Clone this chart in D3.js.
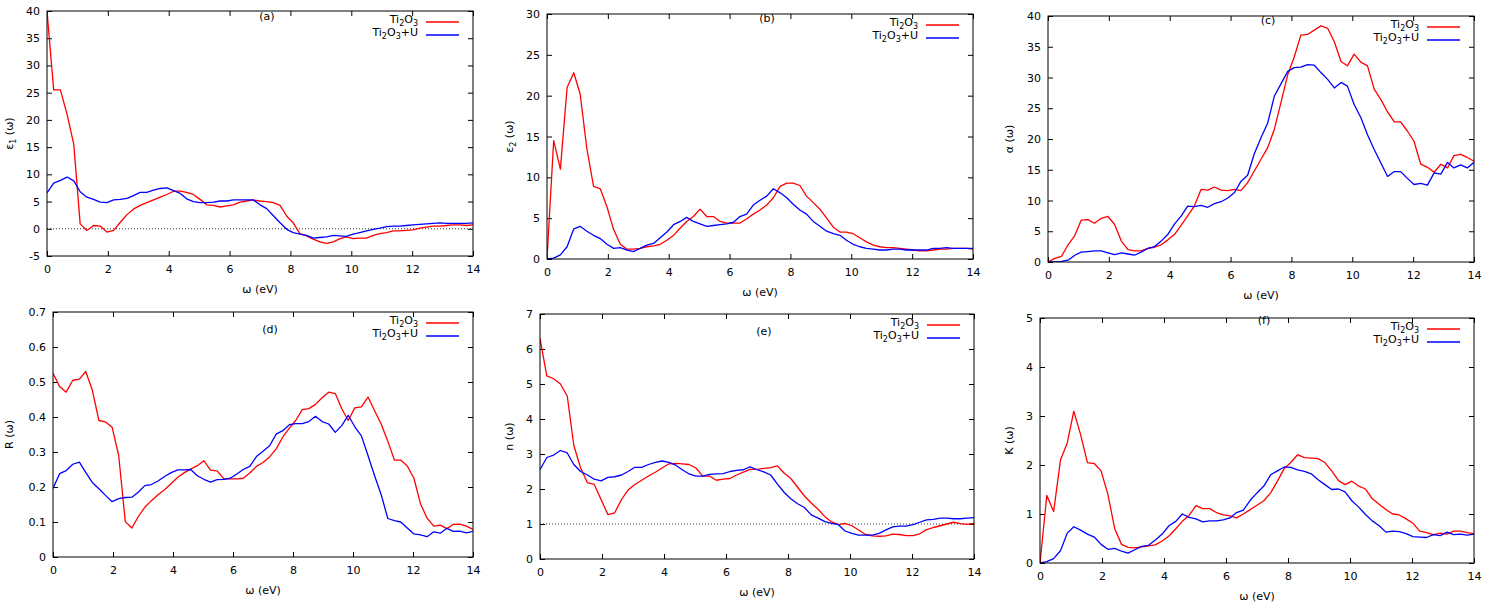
<!DOCTYPE html>
<html>
<head>
<meta charset="utf-8">
<script src="https://cdn.jsdelivr.net/npm/d3@7/dist/d3.min.js"></script>
<style>
    body { margin: 0; background: #fff; }
    svg { font-family: "DejaVu Sans", sans-serif; font-size: 11px; }
</style>
</head>
<body>
<div id="chart"></div>
<script>
// photon energy grid (eV)
const energy = [0, 0.22, 0.44, 0.66, 0.88, 1.09, 1.31, 1.53, 1.75, 1.97, 2.19, 2.41, 2.63, 2.84, 3.06, 3.28,
    3.5, 3.72, 3.94, 4.16, 4.38, 4.59, 4.81, 5.03, 5.25, 5.47, 5.69, 5.91, 6.13, 6.34, 6.56, 6.78,
    7.0, 7.22, 7.44, 7.66, 7.88, 8.09, 8.31, 8.53, 8.75, 8.97, 9.19, 9.41, 9.63, 9.84, 10.06, 10.28,
    10.5, 10.72, 10.94, 11.16, 11.38, 11.59, 11.81, 12.03, 12.25, 12.47, 12.69, 12.91, 13.13, 13.34,
    13.56, 13.78, 14.0];

const seriesNames = ['Ti2O3', 'Ti2O3+U'];

// (a) real part of dielectric function
const eps1Ti2O3 = [40, 25.5, 25.5, 21, 15.5, 0.9, -0.3, 0.6, 0.5, -0.6, -0.3, 1.2, 2.6, 3.6, 4.3, 4.8,
    5.3, 5.8, 6.3, 6.9, 6.9, 6.7, 6.3, 5.4, 4.4, 4.3, 4.0, 4.2, 4.4, 4.9, 5.1, 5.3,
    5.1, 5.0, 4.8, 4.3, 2.3, 1.1, -0.9, -1.3, -1.9, -2.4, -2.7, -2.4, -1.8, -1.5, -1.8, -1.7,
    -1.7, -1.2, -0.9, -0.7, -0.4, -0.4, -0.3, -0.2, 0.1, 0.3, 0.5, 0.5, 0.6, 0.7,
    0.7, 0.6, 0.7];
const eps1Ti2O3U = [6.6, 8.4, 8.9, 9.5, 8.8, 6.8, 5.8, 5.4, 4.9, 4.8, 5.3, 5.4, 5.6, 6.1, 6.7, 6.7,
    7.1, 7.4, 7.5, 7.0, 6.5, 5.5, 5.0, 4.8, 4.8, 4.9, 5.1, 5.1, 5.3, 5.3, 5.3, 5.3,
    4.4, 3.7, 2.4, 1.1, -0.1, -0.7, -1.0, -1.2, -1.7, -1.6, -1.5, -1.2, -1.3, -1.4, -1.0, -0.7,
    -0.4, -0.1, 0.1, 0.4, 0.5, 0.5, 0.6, 0.7, 0.8, 0.9, 1.0, 1.1, 1.0, 1.0,
    1.0, 1.0, 1.1];

// (b) imaginary part of dielectric function
const eps2Ti2O3 = [0, 14.5, 11.0, 21.0, 22.8, 20.2, 13.5, 8.9, 8.6, 6.4, 3.6, 1.8, 1.2, 1.2, 1.3, 1.5,
    1.6, 1.8, 2.3, 2.9, 3.8, 4.6, 5.2, 6.1, 5.2, 5.2, 4.6, 4.4, 4.4, 4.4, 4.9, 5.5,
    6.0, 6.6, 7.5, 8.9, 9.3, 9.3, 9.0, 7.7, 6.9, 6.1, 5.0, 3.9, 3.3, 3.3, 3.1, 2.6,
    2.1, 1.7, 1.5, 1.4, 1.4, 1.3, 1.2, 1.1, 1.0, 1.0, 1.1, 1.2, 1.2, 1.3,
    1.3, 1.3, 1.2];
const eps2Ti2O3U = [0, 0.1, 0.5, 1.5, 3.7, 4.0, 3.4, 2.9, 2.5, 1.8, 1.3, 1.4, 1.1, 0.9, 1.3, 1.7,
    1.9, 2.6, 3.3, 4.2, 4.6, 5.1, 4.6, 4.3, 4.0, 4.1, 4.2, 4.3, 4.5, 5.2, 5.5, 6.6,
    7.2, 7.7, 8.6, 8.1, 7.5, 6.7, 6.0, 5.5, 4.6, 4.0, 3.4, 3.1, 2.9, 2.3, 1.8, 1.5,
    1.3, 1.2, 1.1, 1.1, 1.2, 1.2, 1.1, 1.1, 1.1, 1.1, 1.3, 1.3, 1.4, 1.3,
    1.3, 1.3, 1.3];

// (c) absorption coefficient
const alphaTi2O3 = [0, 0.6, 0.9, 2.8, 4.3, 6.8, 6.9, 6.3, 7.1, 7.4, 6.1, 3.4, 2.0, 1.8, 1.8, 2.2,
    2.4, 2.8, 3.6, 4.5, 6.0, 7.5, 9.1, 11.8, 11.7, 12.2, 11.7, 11.6, 11.8, 11.6, 12.9, 14.8,
    16.7, 18.6, 21.6, 26.0, 30.5, 33.3, 36.9, 37.0, 37.7, 38.4, 38.0, 35.8, 32.6, 31.9, 33.8, 32.5,
    31.9, 28.1, 26.4, 24.4, 22.8, 22.8, 21.3, 19.6, 15.9, 15.4, 14.6, 15.9, 15.3, 17.3,
    17.5, 17.0, 16.4];
const alphaTi2O3U = [0, 0, 0.1, 0.3, 1.1, 1.6, 1.7, 1.8, 1.8, 1.5, 1.2, 1.5, 1.3, 1.1, 1.6, 2.2,
    2.5, 3.4, 4.5, 6.2, 7.5, 9.1, 9.0, 9.2, 8.9, 9.5, 9.8, 10.4, 11.3, 13.1, 14.1, 17.6,
    20.2, 22.6, 27.0, 29.0, 31.0, 31.6, 31.7, 32.1, 32.0, 30.8, 29.7, 28.3, 29.2, 28.6, 25.6, 23.5,
    20.7, 18.3, 16.1, 13.9, 14.7, 14.7, 13.6, 12.6, 12.8, 12.5, 14.5, 14.3, 16.2, 15.3,
    15.8, 15.3, 16.2];

// (d) reflectivity
const reflTi2O3 = [0.525, 0.487, 0.471, 0.505, 0.508, 0.530, 0.477, 0.390, 0.386, 0.371, 0.290, 0.101, 0.083, 0.115, 0.142, 0.161,
    0.178, 0.192, 0.210, 0.228, 0.241, 0.251, 0.261, 0.275, 0.248, 0.246, 0.224, 0.223, 0.223, 0.225, 0.240, 0.259,
    0.270, 0.286, 0.309, 0.343, 0.368, 0.390, 0.421, 0.424, 0.436, 0.455, 0.471, 0.467, 0.423, 0.390, 0.426, 0.429,
    0.457, 0.418, 0.380, 0.331, 0.277, 0.277, 0.260, 0.225, 0.152, 0.111, 0.088, 0.091, 0.081, 0.093,
    0.094, 0.088, 0.079];
const reflTi2O3U = [0.196, 0.238, 0.247, 0.265, 0.271, 0.242, 0.213, 0.195, 0.176, 0.158, 0.167, 0.170, 0.171, 0.185, 0.204, 0.207,
    0.217, 0.230, 0.241, 0.249, 0.249, 0.250, 0.232, 0.222, 0.214, 0.221, 0.222, 0.225, 0.237, 0.250, 0.259, 0.287,
    0.302, 0.318, 0.351, 0.361, 0.378, 0.381, 0.381, 0.387, 0.402, 0.387, 0.380, 0.356, 0.376, 0.405, 0.372, 0.346,
    0.290, 0.232, 0.178, 0.110, 0.104, 0.100, 0.083, 0.066, 0.063, 0.058, 0.072, 0.068, 0.082, 0.073,
    0.074, 0.069, 0.073];

// (e) refractive index
const nTi2O3 = [6.3, 5.23, 5.15, 5.0, 4.65, 3.25, 2.6, 2.18, 2.13, 1.7, 1.27, 1.32, 1.7, 1.97, 2.13, 2.25,
    2.37, 2.48, 2.6, 2.72, 2.73, 2.72, 2.70, 2.6, 2.37, 2.37, 2.25, 2.28, 2.3, 2.4, 2.48, 2.56,
    2.56, 2.59, 2.61, 2.66, 2.45, 2.3, 2.05, 1.8, 1.6, 1.42, 1.21, 1.06, 0.98, 1.02, 0.95, 0.83,
    0.7, 0.66, 0.65, 0.66, 0.71, 0.7, 0.67, 0.67, 0.72, 0.84, 0.9, 0.95, 1.0, 1.05,
    1.01, 0.99, 1.02];
const nTi2O3U = [2.55, 2.9, 2.97, 3.1, 3.03, 2.7, 2.5, 2.4, 2.28, 2.23, 2.33, 2.35, 2.4, 2.5, 2.62, 2.62,
    2.7, 2.76, 2.8, 2.76, 2.68, 2.55, 2.43, 2.37, 2.37, 2.42, 2.43, 2.44, 2.5, 2.53, 2.55, 2.63,
    2.55, 2.49, 2.4, 2.14, 1.9, 1.72, 1.58, 1.47, 1.26, 1.17, 1.07, 1.02, 0.98, 0.8, 0.73, 0.68,
    0.68, 0.68, 0.73, 0.83, 0.92, 0.94, 0.94, 0.98, 1.05, 1.12, 1.13, 1.17, 1.17, 1.15,
    1.15, 1.17, 1.18];

// (f) extinction coefficient
const kTi2O3 = [0, 1.38, 1.05, 2.1, 2.45, 3.1, 2.62, 2.05, 2.03, 1.88, 1.4, 0.7, 0.38, 0.32, 0.31, 0.33,
    0.35, 0.37, 0.45, 0.55, 0.7, 0.85, 0.97, 1.17, 1.11, 1.11, 1.03, 0.98, 0.96, 0.92, 1.0, 1.09,
    1.18, 1.27, 1.43, 1.67, 1.93, 2.05, 2.21, 2.15, 2.14, 2.13, 2.05, 1.88, 1.68, 1.6, 1.67, 1.57,
    1.51, 1.31, 1.2, 1.09, 1.0, 0.98, 0.9, 0.81, 0.65, 0.62, 0.58, 0.61, 0.59, 0.65,
    0.65, 0.62, 0.6];
const kTi2O3U = [0, 0.03, 0.09, 0.25, 0.61, 0.74, 0.67, 0.59, 0.53, 0.38, 0.28, 0.3, 0.24, 0.2, 0.27, 0.34,
    0.36, 0.47, 0.59, 0.76, 0.85, 1.0, 0.93, 0.9, 0.84, 0.86, 0.86, 0.88, 0.92, 1.03, 1.08, 1.28,
    1.43, 1.57, 1.8, 1.88, 1.96, 1.95, 1.9, 1.87, 1.82, 1.7, 1.6, 1.5, 1.51, 1.45, 1.27, 1.14,
    0.99, 0.86, 0.76, 0.63, 0.65, 0.64, 0.6, 0.54, 0.53, 0.52, 0.58, 0.56, 0.63, 0.58,
    0.59, 0.57, 0.59];

// tick values
const xTicks = [0, 2, 4, 6, 8, 10, 12, 14];
const yTicksA = [-5, 0, 5, 10, 15, 20, 25, 30, 35, 40];
const yTicksB = [0, 5, 10, 15, 20, 25, 30];
const yTicksC = [0, 5, 10, 15, 20, 25, 30, 35, 40];
const yTicksD = [0, 0.1, 0.2, 0.3, 0.4, 0.5, 0.6, 0.7];
const yTicksE = [0, 1, 2, 3, 4, 5, 6, 7];
const yTicksF = [0, 1, 2, 3, 4, 5];

const colors = ['#ff0000', '#0000ff'];

// panel layout: frame in page pixels, y label parts [main, sub, rest]
const panels = [
    { tag: '(a)', sets: [eps1Ti2O3, eps1Ti2O3U], yTicks: yTicksA, ref: 0,
      frame: { l: 47, r: 473, t: 11, b: 256 }, yLab: ['ε', '1', ' (ω)'], yLabX: 9, tagY: 20 },
    { tag: '(b)', sets: [eps2Ti2O3, eps2Ti2O3U], yTicks: yTicksB, ref: null,
      frame: { l: 547, r: 973, t: 14, b: 259 }, yLab: ['ε', '2', ' (ω)'], yLabX: 509, tagY: 22 },
    { tag: '(c)', sets: [alphaTi2O3, alphaTi2O3U], yTicks: yTicksC, ref: null,
      frame: { l: 1048, r: 1474, t: 16, b: 262 }, yLab: ['α (ω)', '', ''], yLabX: 1009, tagY: 24 },
    { tag: '(d)', sets: [reflTi2O3, reflTi2O3U], yTicks: yTicksD, ref: null,
      frame: { l: 53, r: 473, t: 312, b: 557 }, yLab: ['R (ω)', '', ''], yLabX: 9, tagY: 333 },
    { tag: '(e)', sets: [nTi2O3, nTi2O3U], yTicks: yTicksE, ref: 1,
      frame: { l: 540, r: 974, t: 314, b: 559 }, yLab: ['n (ω)', '', ''], yLabX: 509, tagY: 335 },
    { tag: '(f)', sets: [kTi2O3, kTi2O3U], yTicks: yTicksF, ref: null,
      frame: { l: 1040, r: 1474, t: 318, b: 563 }, yLab: ['K (ω)', '', ''], yLabX: 1009, tagY: 324 }
];

const svg = d3.select('#chart')
    .append('svg')
    .attr('width', 1495)
    .attr('height', 604);

// writes "Ti2O3..." with real subscripts
function formula(textSel, name) {
    const parts = name.match(/[A-Za-z+]+|\d+/g);
    parts.forEach(p => {
        if (/^\d+$/.test(p)) {
            textSel.append('tspan').attr('font-size', '8px').attr('dy', 3).text(p);
        } else {
            textSel.append('tspan').attr('dy', textSel.selectAll('tspan').size() ? -3 : 0).text(p);
        }
    });
}

panels.forEach((p, pi) => {
    const f = p.frame;
    const w = f.r - f.l, h = f.b - f.t;
    const yDom = d3.extent(p.yTicks);

    const x = d3.scaleLinear().domain([0, 14]).range([0, w]);
    const y = d3.scaleLinear().domain(yDom).range([h, 0]);

    const g = svg.append('g').attr('transform', `translate(${f.l},${f.t})`);

    g.append('clipPath').attr('id', 'clip' + pi)
        .append('rect').attr('width', w).attr('height', h);

    // axes with inward ticks, mirrored on top and right
    const styleAxis = sel => {
        sel.select('.domain').remove();
        sel.selectAll('line').attr('stroke', '#000');
        sel.selectAll('text').attr('fill', '#000').style('font-size', '11px')
            .style('font-family', '"DejaVu Sans", sans-serif');
    };
    g.append('g').attr('transform', `translate(0,${h})`)
        .call(d3.axisBottom(x).tickValues(xTicks).tickSizeInner(-5).tickSizeOuter(0).tickPadding(9))
        .call(styleAxis);
    g.append('g')
        .call(d3.axisTop(x).tickValues(xTicks).tickSizeInner(-5).tickSizeOuter(0).tickFormat(''))
        .call(styleAxis);
    g.append('g')
        .call(d3.axisLeft(y).tickValues(p.yTicks).tickSizeInner(-5).tickSizeOuter(0).tickPadding(7)
            .tickFormat(d => String(d)))
        .call(styleAxis);
    g.append('g').attr('transform', `translate(${w},0)`)
        .call(d3.axisRight(y).tickValues(p.yTicks).tickSizeInner(-5).tickSizeOuter(0).tickFormat(''))
        .call(styleAxis);

    // dotted reference line
    if (p.ref !== null) {
        g.append('line')
            .attr('x1', 0).attr('x2', w)
            .attr('y1', y(p.ref)).attr('y2', y(p.ref))
            .attr('stroke', '#000').attr('stroke-width', 0.8)
            .attr('stroke-dasharray', '1,2');
    }

    const line = d3.line()
        .x((d, i) => x(energy[i]))
        .y(d => y(d));

    p.sets.forEach((vals, si) => {
        g.append('path')
            .datum(vals)
            .attr('clip-path', `url(#clip${pi})`)
            .attr('fill', 'none')
            .attr('stroke', colors[si])
            .attr('stroke-width', 1.3)
            .attr('stroke-linejoin', 'round')
            .attr('d', line);
    });

    g.append('rect')
        .attr('width', w).attr('height', h)
        .attr('fill', 'none').attr('stroke', '#000').attr('stroke-width', 1);

    // legend
    seriesNames.forEach((name, si) => {
        const ly = 11 + si * 13;
        const t = g.append('text')
            .attr('x', w - 55).attr('y', ly + 4)
            .attr('text-anchor', 'end');
        formula(t, name);
        g.append('line')
            .attr('x1', w - 47).attr('x2', w - 14)
            .attr('y1', ly).attr('y2', ly)
            .attr('stroke', colors[si]).attr('stroke-width', 1.3);
    });

    // panel tag
    svg.append('text')
        .attr('x', (f.l + f.r) / 2 + 7).attr('y', p.tagY)
        .attr('text-anchor', 'middle')
        .text(p.tag);

    // axis titles
    svg.append('text')
        .attr('x', (f.l + f.r) / 2).attr('y', f.b + 37)
        .attr('text-anchor', 'middle')
        .text('ω (eV)');

    const yl = svg.append('text')
        .attr('transform', `translate(${p.yLabX},${(f.t + f.b) / 2}) rotate(-90)`)
        .attr('text-anchor', 'middle')
        .attr('dy', '0.35em');
    yl.append('tspan').text(p.yLab[0]);
    if (p.yLab[1]) {
        yl.append('tspan').attr('font-size', '8px').attr('dy', 3).text(p.yLab[1]);
        yl.append('tspan').attr('dy', -3).text(p.yLab[2]);
    }
});
</script>
</body>
</html>
